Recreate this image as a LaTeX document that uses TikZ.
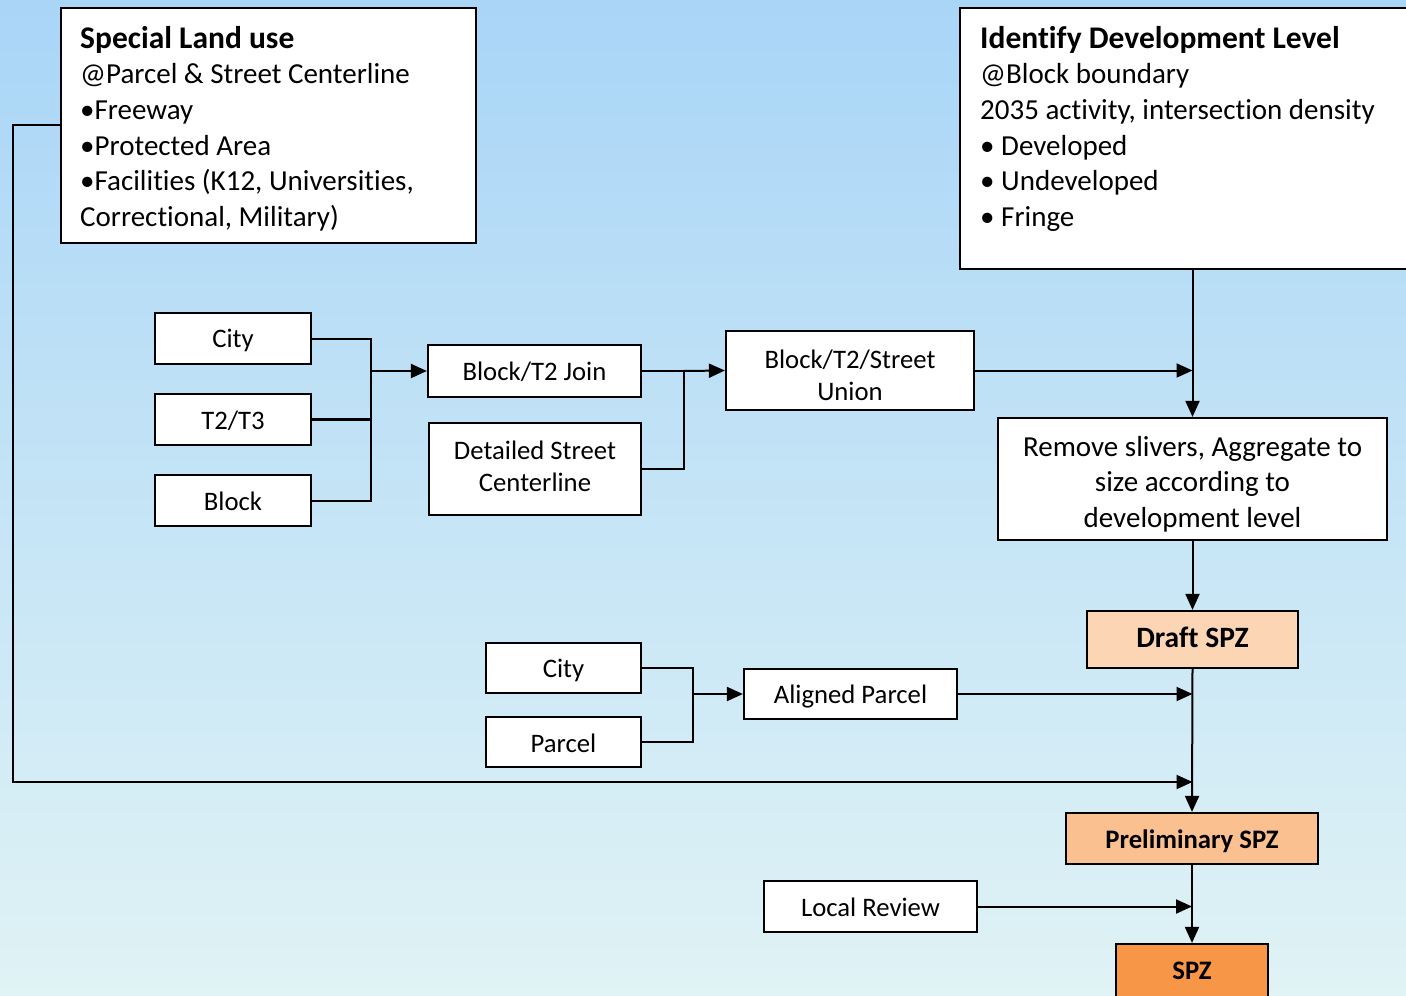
\documentclass[tikz,border=0pt]{standalone}
\usepackage{fontspec}
\setmainfont{Carlito}[RawFeature={-liga;-dlig;-clig}]
\usetikzlibrary{arrows.meta,calc}
\definecolor{bgtop}{HTML}{A9D5F7}
\definecolor{bgbot}{HTML}{E0F3F5}
\definecolor{draftfill}{HTML}{FCD5B4}
\definecolor{prelimfill}{HTML}{FAC090}
\definecolor{spzfill}{HTML}{F79646}
% invisible strut that sets the height of the first text line
\newcommand{\topstrut}[1]{\rule{0pt}{#1pt}}
\begin{document}
\begin{tikzpicture}[x=1pt,y=-1pt,
  box/.style={draw=black, line width=2.2pt, fill=white, inner sep=2pt, align=center,
              font=\fontsize{26.7}{32}\selectfont},
  bigbox/.style={draw=black, line width=2.6pt, fill=white, inner sep=0pt},
  bigtext/.style={inner sep=0pt, align=left, anchor=north west,
              font=\fontsize{29}{35.6}\selectfont},
  result/.style={box, font=\fontsize{26.7}{32}\selectfont\bfseries},
  % raise the top of the first text line to push the text down a little
  lift/.style={execute at begin node={\rule{0pt}{#1pt}}},
  % deepen the bottom of the text to push it up a little
  sink/.style={execute at end node={\rule[-#1pt]{0pt}{0pt}}},
  conn/.style={line width=2pt, draw=black},
  arr/.style={conn, -{Triangle[length=16pt,width=14pt]}}
]
% background
\path[use as bounding box, top color=bgtop, bottom color=bgbot] (0,0) rectangle (1406,996);

% header boxes
\node[bigbox, minimum width=415pt, minimum height=235pt] (slu) at (268.5,125.5) {};
\node[bigtext] (slutext) at (80,26) {{\fontsize{31.5}{35.6}\selectfont\bfseries Special Land use}\\
  @Parcel \& Street Centerline\\
  •Freeway\\
  •Protected Area\\
  •Facilities (K12, Universities,\\
  Correctional, Military)};
\node[bigbox, minimum width=452pt, minimum height=261pt] (idl) at (1186,138.5) {};
\node[bigtext] (idltext) at (980,26) {{\fontsize{31.5}{35.6}\selectfont\bfseries Identify Development Level}\\
  @Block boundary\\
  2035 activity, intersection density\\
  • Developed\\
  • Undeveloped\\
  • Fringe};

% first stage inputs
\node[box, lift=22, minimum width=156pt, minimum height=51pt] (city1) at (233,338.5) {City};
\node[box, lift=20.5, minimum width=156pt, minimum height=51pt] (t2t3) at (233,419.5) {T2/T3};
\node[box, lift=20.5, minimum width=156pt, minimum height=51pt] (block) at (233,500.5) {Block};
\node[box, lift=20.5, minimum width=213pt, minimum height=52pt] (join) at (534.5,371) {Block/T2 Join};
\node[box, sink=6, minimum width=212pt, minimum height=92pt] (dsc) at (535,469) {Detailed Street\\Centerline};
\node[box, minimum width=248pt, minimum height=79pt] (union) at (850,370.5) {\topstrut{29}Block/T2/Street\\Union};
\node[box, minimum width=389pt, minimum height=122pt, font=\fontsize{29}{35.5}\selectfont] (slivers) at (1192.5,479)
  {\topstrut{30}Remove slivers, Aggregate to\\size according to\\development level};

% results
\node[result, sink=4, fill=draftfill, minimum width=211pt, minimum height=57pt, font=\fontsize{29.5}{32}\selectfont\bfseries] (draft) at (1192.5,639.5) {Draft SPZ};
\node[result, lift=24.5, fill=prelimfill, minimum width=252pt, minimum height=51pt] (prelim) at (1192,838.5) {Preliminary SPZ};
\node[result, sink=2, fill=spzfill, minimum width=152pt, minimum height=56pt] (spz) at (1192,972) {SPZ};

% parcel inputs
\node[box, lift=24, minimum width=155pt, minimum height=50pt] (city2) at (563.5,668) {City};
\node[box, lift=20.5, minimum width=155pt, minimum height=50pt] (parcel) at (563.5,742) {Parcel};
\node[box, lift=24.5, minimum width=213pt, minimum height=50pt] (aligned) at (850.5,694) {Aligned Parcel};
\node[box, lift=20.5, minimum width=213pt, minimum height=51pt] (review) at (870.5,906.5) {Local Review};

% junction points
\coordinate (m1) at (371,371);
\coordinate (m2) at (684,371);
\coordinate (m3) at (693,694);
\coordinate (loop) at (13,125);

% city / T2 / block merge
\draw[conn] (city1.east) -| (m1);
\draw[conn, line width=2.8pt] (t2t3.east) -- (t2t3.east -| m1);
\draw[conn] (block.east) -| (m1);
\draw[arr] (m1) -- (join.west);

% join + centerline merge
\draw[conn] (join.east) -- (m2);
\draw[conn] (dsc.east) -| (m2);
\draw[arr] (m2) -- (union.west);

% main vertical chain
\draw[arr] (idl.south -| slivers.north) -- (slivers.north);
\draw[arr] (union.east) -- (union.east -| slivers.north);
\draw[arr] (slivers.south) -- (draft.north);
\draw[arr] (draft.south) -- (prelim.north);
\draw[arr] (prelim.south) -- (spz.north);

% parcel merge
\draw[conn] (city2.east) -| (m3);
\draw[conn] (parcel.east) -| (m3);
\draw[arr] (m3) -- (aligned.west);
\draw[arr] (aligned.east) -- (aligned.east -| draft.south);

% special land use loop
\draw[arr] (slu.west |- loop) -- (loop) |- (draft.south |- 0,782);

% local review
\draw[arr] (review.east) -- (review.east -| prelim.south);
\end{tikzpicture}
\end{document}
